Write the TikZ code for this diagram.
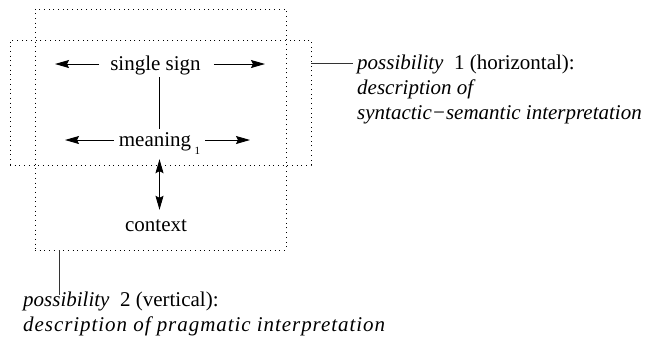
\documentclass[tikz,border=0pt]{standalone}
\usepackage{fontspec}
\setmainfont{Liberation Serif}
\usetikzlibrary{arrows.meta}
\begin{document}
\begin{tikzpicture}[x=1pt,y=-1pt,
  dotbox/.style={draw, line width=0.9pt, dash pattern=on 1pt off 3.7pt, inner sep=0pt},
  lbl/.style={font=\fontsize{21}{25}\selectfont, text height=15pt, text depth=5pt, inner ysep=2pt},
  note/.style={font=\fontsize{21}{25}\selectfont, align=left, anchor=base west, inner sep=0pt},
  arr/.style={line width=0.9pt, -{Stealth[length=14pt,width=8pt,inset=2pt]}},
  darr/.style={line width=0.9pt, {Stealth[length=14pt,width=8pt,inset=2pt]}-{Stealth[length=14pt,width=8pt,inset=2pt]}},
  link/.style={line width=0.8pt, draw=black!80}]
\useasboundingbox (0,0) rectangle (651,341);

% the two overlapping frames
\node[dotbox, minimum width=251pt, minimum height=241pt] (vbox) at (160.5,129.5) {};
\node[dotbox, minimum width=301pt, minimum height=125pt] (hbox) at (160.5,102.5) {};

% inner labels
\node[lbl, inner xsep=11pt, anchor=base] (ss) at (155.5,70) {single sign};
\node[lbl, inner xsep=5pt, anchor=base] (m) at (159.5,146) {meaning\,\raisebox{-0.4em}{\fontsize{11}{11}\selectfont 1}};
\node[lbl, anchor=base] (ctx) at (156,231) {context};

% arrow end points
\coordinate (ssL) at (55,64);
\coordinate (ssR) at (265,64);
\coordinate (mL) at (65,140);
\coordinate (mR) at (250,140);

\draw[arr] (ss.west |- ssL) -- (ssL);
\draw[arr] (ss.east |- ssR) ++(2,0) -- (ssR);
\draw[arr] (m.west |- mL) -- (mL);
\draw[arr] (m.east |- mR) -- (mR);
\draw[line width=0.9pt] (m.north |- ss.south) -- (m.north);
\draw[darr, shorten <=6pt, shorten >=4pt] (m.south) -- (m.south |- ctx.north);

% explanatory notes (anchored at the baseline of their last line)
\coordinate (c1) at (353,63);
\node[note] (n1) at (357,119) {\textit{possibility}\ \ 1 (horizontal):\\
  \textit{description of}\\
  \textit{syntactic−semantic interpretation}};
\draw[link] (hbox.east |- c1) -- (c1);

\coordinate (c2) at (59,295);
\node[note] (n2) at (23,331) {\textit{possibility}\ \ 2 (vertical):\\
  {\addfontfeatures{LetterSpace=4.5}\textit{description of pragmatic interpretation}}};
\draw[link] (vbox.south -| c2) -- (c2);
\end{tikzpicture}
\end{document}
